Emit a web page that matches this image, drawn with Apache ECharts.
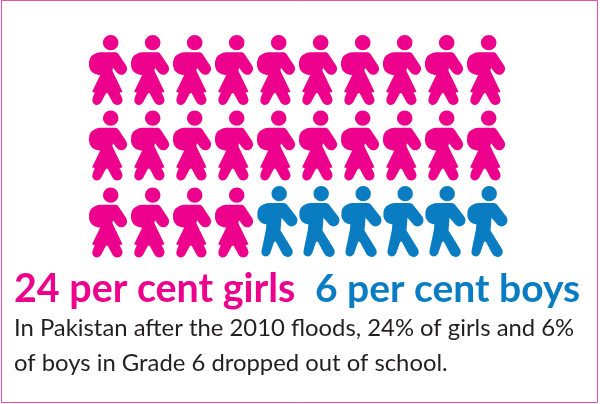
<!DOCTYPE html>
<html><head><meta charset="utf-8">
<style>html,body{margin:0;padding:0;background:#fff;overflow:hidden}#c{width:600px;height:404px}</style>
<script src="https://cdn.jsdelivr.net/npm/echarts@6/dist/echarts.min.js"></script>
</head><body><div id="c"></div>
<script>
const columns=[1,2,3,4,5,6,7,8,9,10];
const rows=[1,1.99,3];
const girlsCount=24;
const boysCount=6;
const girlsLabel='24 per cent girls';
const boysLabel='6 per cent boys';
const captionLines=['In Pakistan after the 2010 floods, 24% of girls and 6%','of boys in Grade 6 dropped out of school.'];
const PINK='#ec008c',BLUE='#0a7dc2',INK='#231f20',FONT='Lato';
const HEAD=(cx,cy,r)=>`M${cx-r} ${cy}A${r} ${r} 0 1 1 ${cx+r} ${cy}A${r} ${r} 0 1 1 ${cx-r} ${cy}Z`;
const girlPath='path://'+HEAD(93,53,23)+'M62 82L108 82Q114 83 118 90L139 122Q146 136 133 147Q120 154 110 142L100 128L98 137L128 200L119 203Q127 215 128 224Q127 238 113 240Q103 240 98 231L84 205L79 205L64 233Q58 241 49 240Q37 236 39 222Q41 213 46 203L38 200L62 150L58 150Q33 147 29 124Q26 95 45 87Q52 83 62 82Z';
const boyPath='path://'+HEAD(208,40,23)+'M180 68L222 68Q230 69 234 76L260 110Q267 124 256 134Q243 143 232 132L215 112L212 150L247 207Q252 222 238 229Q225 232 218 221L198 184L193 184L181 219Q173 232 161 226Q153 221 156 208L168 150L170 132Q146 127 143 108Q140 80 160 72Q170 68 180 68Z';
const cells=[];
rows.forEach(r=>columns.forEach(c=>cells.push([c,r])));
const girls=cells.slice(0,girlsCount);
const boys=cells.slice(girlsCount,girlsCount+boysCount);
const chart=echarts.init(document.getElementById('c'),null,{renderer:'canvas'});
chart.setOption({
  animation:false,
  backgroundColor:'#fff',
  grid:{left:66,top:0,width:462,height:404},
  xAxis:{type:'value',min:0,max:11,show:false},
  yAxis:{type:'value',min:0.082,max:5.38,inverse:true,show:false},
  title:[
    {text:girlsLabel,left:9,top:264.5,textStyle:{color:PINK,fontFamily:FONT,fontWeight:'bold',fontSize:39.4}},
    {text:boysLabel,left:310,top:264.5,textStyle:{color:BLUE,fontFamily:FONT,fontWeight:'bold',fontSize:39}},
    {text:captionLines[0],left:9,top:311,textStyle:{color:INK,fontFamily:FONT,fontWeight:'normal',fontSize:23.85}},
    {text:captionLines[1],left:9,top:346,textStyle:{color:INK,fontFamily:FONT,fontWeight:'normal',fontSize:23.85}}
  ],
  graphic:[{type:'rect',silent:true,shape:{x:1.5,y:0.5,width:596,height:402},style:{fill:'none',stroke:'#ea4ea5',lineWidth:1}}],
  series:[
    {name:'Girls',type:'scatter',data:girls,symbol:girlPath,symbolSize:[38.2,70],itemStyle:{color:PINK,opacity:1}},
    {name:'Boys',type:'scatter',data:boys,symbol:boyPath,symbolSize:[40.3,71],symbolOffset:[1.4,-1],itemStyle:{color:BLUE,opacity:1}}
  ]
});
</script></body></html>
